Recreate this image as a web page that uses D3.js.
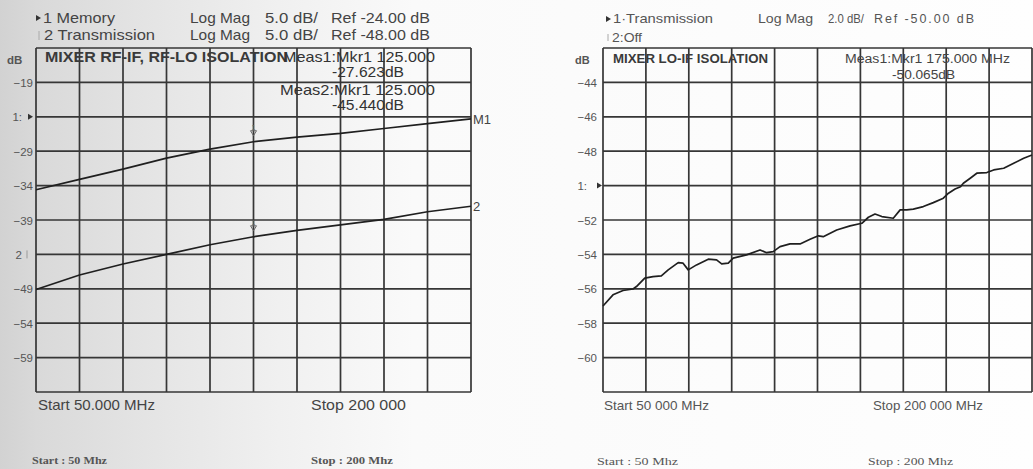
<!DOCTYPE html>
<html>
<head>
<meta charset="utf-8">
<script src="https://cdn.jsdelivr.net/npm/d3@7/dist/d3.min.js"></script>
<style>
  html, body { margin: 0; padding: 0; background: #fff; }
  svg { display: block; font-family: "Liberation Sans", Arial, sans-serif; }
</style>
</head>
<body>
<svg id="chart" width="1033" height="469"></svg>
<script>
// ---- Panel 1: mixer RF-IF / RF-LO isolation (two traces, 5 dB/div) ----
const rfFreqMHz = [50, 65, 80, 95, 110, 125, 140, 155, 170, 185, 200];
const memoryDb = [-34.6, -33.1, -31.6, -30.0, -28.7, -27.623, -26.95, -26.4, -25.7, -25.0, -24.3];
const transmissionDb = [-53.1, -51.0, -49.4, -48.0, -46.6, -45.44, -44.5, -43.7, -42.9, -41.8, -41.0];
const rfTicks = [-19, -24, -29, -34, -39, -44, -49, -54, -59];
const rfMarkerMHz = 125;
const rfMarkerDb = [-27.623, -45.44];

// ---- Panel 2: mixer LO-IF isolation (one trace, 2 dB/div) ----
const loFreqMHz = [50, 53.5, 57.0, 60.5, 61.7, 64.6, 67.5, 70.4, 72.8, 76.3, 78.0, 79.8, 82.7, 86.8, 89.7,
  91.5, 93.8, 95.5, 100.2, 104.9, 107.2, 109.5, 111.9, 115.4, 118.9, 122.4, 125.3, 127.0, 131.7, 136.4,
  140.5, 142.8, 145.1, 147.5, 151.5, 153.9, 156.2, 158.5, 162.0, 165.5, 169.0, 170.8, 173.1, 175.0,
  176.0, 178.4, 180.7, 184.2, 186.6, 190.1, 193.6, 197.1, 200];
const loIsolationDb = [-57.0, -56.35, -56.10, -56.01, -55.87, -55.38, -55.29, -55.25, -54.90, -54.48, -54.51,
  -54.90, -54.61, -54.28, -54.32, -54.55, -54.51, -54.22, -54.03, -53.74, -53.90, -53.84, -53.55, -53.39,
  -53.39, -53.12, -52.92, -52.97, -52.58, -52.34, -52.19, -51.84, -51.65, -51.80, -51.90, -51.41, -51.41,
  -51.37, -51.22, -50.99, -50.73, -50.44, -50.20, -50.065, -49.86, -49.57, -49.28, -49.24, -49.09, -48.99,
  -48.70, -48.41, -48.22];
const loTicks = [-44, -46, -48, -50, -52, -54, -56, -58, -60];
const loMarkerMHz = 175;
const loMarkerDb = -50.065;

const svg = d3.select("#chart");

// Paper-like background, greyer toward the left edge
const defs = svg.append("defs");
const bg = defs.append("linearGradient").attr("id", "paper").attr("x1", 0).attr("x2", 1).attr("y1", 0).attr("y2", 0);
[[0, "#d2d2d2"], [0.035, "#d9d9d9"], [0.14, "#e4e4e4"], [0.27, "#f0f0f0"], [0.4, "#fafafa"], [1, "#fefefe"]]
  .forEach(([o, c]) => bg.append("stop").attr("offset", o).attr("stop-color", c));
svg.append("rect").attr("width", 1033).attr("height", 469).attr("fill", "url(#paper)");

const gridColor = "#363636";
const traceColor = "#1f1f1f";

// Text helper; an optional width stretches the run to that length
function label(g, t, x, y, o = {}) {
  const el = g.append("text").attr("x", x).attr("y", y)
    .attr("font-size", o.size || 14).attr("fill", o.fill || "#444")
    .attr("font-weight", o.weight || "normal").text(t);
  if (o.family) el.attr("font-family", o.family);
  if (o.width) el.attr("textLength", o.width).attr("lengthAdjust", o.adjust || "spacingAndGlyphs");
  return el;
}

function drawGrid(g, x, y, yTicks, fmt, shift, labelX) {
  const [x0, x1] = x.range();
  const [y1, y0] = y.range();
  const xd = x.domain(), yd = y.domain();
  const xDiv = d3.range(0, 11).map(i => xd[0] + i * (xd[1] - xd[0]) / 10);
  const yDiv = d3.range(0, 11).map(i => yd[0] + i * (yd[1] - yd[0]) / 10);
  g.selectAll(".vg").data(xDiv).join("line")
    .attr("x1", d => x(d)).attr("x2", d => x(d)).attr("y1", y0).attr("y2", y1)
    .attr("stroke", gridColor).attr("stroke-width", 1.7);
  g.selectAll(".hg").data(yDiv).join("line")
    .attr("x1", x0).attr("x2", x1).attr("y1", d => y(d)).attr("y2", d => y(d))
    .attr("stroke", gridColor).attr("stroke-width", 1.7);

  const axis = d3.axisLeft(y).tickValues(yTicks).tickSize(0).tickPadding(0).tickFormat(fmt);
  const ag = g.append("g").attr("transform", `translate(${labelX},0)`).call(axis);
  ag.select(".domain").remove();
  ag.selectAll("text").attr("fill", "#555").attr("font-size", 11.5).attr("dy", "0.35em")
    .attr("dx", d => shift(d));
}

function refArrow(g, x, y) {
  g.append("path").attr("d", `M${x - 3},${y - 3} L${x + 2},${y} L${x - 3},${y + 3} Z`).attr("fill", "#333");
}

// ================= Left panel =================
{
  const g = svg.append("g");
  const x = d3.scaleLinear().domain([50, 200]).range([36, 471]);
  const y1 = d3.scaleLinear().domain([-64, -14]).range([392, 48]);   // Ref -24 dB, 5 dB/div
  const y2 = d3.scaleLinear().domain([-68, -18]).range([392, 48]);   // Ref -48 dB, 5 dB/div

  drawGrid(g, x, y1, rfTicks,
    d => (d === -24 ? "1:" : d === -44 ? "2" : d3.format("d")(d)),
    d => (d === -24 || d === -44 ? -11 : 0), 33);
  refArrow(g, 31, y1(-24));
  g.append("line").attr("x1", 27).attr("x2", 27).attr("y1", y1(-44) - 4).attr("y2", y1(-44) + 4)
    .attr("stroke", "#999").attr("stroke-width", 1);
  label(g, "dB", 7, 64, { size: 11.5, weight: "bold", fill: "#555" });

  const line1 = d3.line().x((d, i) => x(rfFreqMHz[i])).y(d => y1(d));
  const line2 = d3.line().x((d, i) => x(rfFreqMHz[i])).y(d => y2(d));
  g.append("path").attr("d", line1(memoryDb)).attr("fill", "none").attr("stroke", traceColor).attr("stroke-width", 1.7);
  g.append("path").attr("d", line2(transmissionDb)).attr("fill", "none").attr("stroke", traceColor).attr("stroke-width", 1.7);

  // marker symbols at 125 MHz
  [[y1, rfMarkerDb[0]], [y2, rfMarkerDb[1]]].forEach(([ys, v]) => {
    const mx = x(rfMarkerMHz), my = ys(v) - 8;
    g.append("path").attr("d", `M${mx - 3},${my - 3} L${mx + 3},${my - 3} L${mx},${my + 2} Z`)
      .attr("fill", "none").attr("stroke", "#666").attr("stroke-width", 1);
    label(g, "1", mx, my - 4, { size: 7, fill: "#666" }).attr("text-anchor", "middle");
  });

  label(g, "M1", 473, y1(memoryDb[memoryDb.length - 1]) + 5, { size: 13 });
  label(g, "2", 473, y2(transmissionDb[transmissionDb.length - 1]) + 5, { size: 13 });

  // header
  refArrow(g, 39, 18);
  label(g, "1 Memory", 43, 23, { size: 15, width: 72 });
  label(g, "Log Mag", 190, 23, { size: 15, width: 60 });
  label(g, "5.0 dB/", 265, 23, { size: 15, width: 53 });
  label(g, "Ref -24.00 dB", 331, 23, { size: 15, width: 99 });
  g.append("line").attr("x1", 39).attr("x2", 39).attr("y1", 31).attr("y2", 40).attr("stroke", "#aaa");
  label(g, "2 Transmission", 44, 40, { size: 15, width: 111 });
  label(g, "Log Mag", 190, 40, { size: 15, width: 60 });
  label(g, "5.0 dB/", 265, 40, { size: 15, width: 53 });
  label(g, "Ref -48.00 dB", 331, 40, { size: 15, width: 99 });

  label(g, "MIXER RF-IF, RF-LO ISOLATION", 45, 62, { size: 14, weight: "bold", fill: "#3a3a3a", width: 243 });
  label(g, `Meas1:Mkr1  ${rfMarkerMHz.toFixed(3)}`, 283, 62, { size: 14.5, fill: "#333", width: 152 });
  label(g, `${rfMarkerDb[0].toFixed(3)}dB`, 332, 77, { size: 14.5, fill: "#333", width: 72 });
  label(g, `Meas2:Mkr1  ${rfMarkerMHz.toFixed(3)}`, 280, 95, { size: 14.5, fill: "#333", width: 155 });
  label(g, `${rfMarkerDb[1].toFixed(3)}dB`, 332, 110, { size: 14.5, fill: "#333", width: 72 });

  label(g, "Start 50.000 MHz", 38, 410, { size: 14.5, width: 117 });
  label(g, "Stop 200 000", 311, 410, { size: 14.5, width: 95 });

  const serif = "'Liberation Serif', 'DejaVu Serif', serif";
  label(g, "Start : 50 Mhz", 32, 464, { size: 11, weight: "bold", fill: "#555", family: serif, width: 75 });
  label(g, "Stop : 200 Mhz", 311, 464, { size: 11, weight: "bold", fill: "#555", family: serif, width: 82 });
}

// ================= Right panel =================
{
  const g = svg.append("g");
  const x = d3.scaleLinear().domain([50, 200]).range([603, 1032]);
  const y = d3.scaleLinear().domain([-62, -42]).range([392, 48]);   // Ref -50 dB, 2 dB/div

  drawGrid(g, x, y, loTicks, d => (d === -50 ? "1:" : d3.format("d")(d)), d => (d === -50 ? -10 : 0), 597);
  refArrow(g, 600, y(-50));
  label(g, "dB", 575, 64, { size: 11, weight: "bold", fill: "#555" });

  const line = d3.line().x((d, i) => x(loFreqMHz[i])).y(d => y(d));
  g.append("path").attr("d", line(loIsolationDb)).attr("fill", "none")
    .attr("stroke", traceColor).attr("stroke-width", 1.7).attr("stroke-linejoin", "round");

  refArrow(g, 609, 19);
  label(g, "1·Transmission", 613, 23, { size: 13, fill: "#555", width: 100 });
  label(g, "Log Mag", 758, 23, { size: 12.5, fill: "#555", width: 55 });
  label(g, "2.0 dB/", 828, 23, { size: 12, fill: "#555", width: 36 });
  label(g, "Ref -50.00 dB", 874, 23, { size: 12.5, fill: "#555", width: 100, adjust: "spacing" });
  g.append("line").attr("x1", 608).attr("x2", 608).attr("y1", 34).attr("y2", 41).attr("stroke", "#aaa");
  label(g, "2:Off", 612, 42, { size: 13, fill: "#555", width: 30 });

  label(g, "MIXER LO-IF ISOLATION", 613, 63, { size: 12.5, weight: "bold", fill: "#3a3a3a", width: 155 });
  label(g, `Meas1:Mkr1  ${loMarkerMHz.toFixed(3)} MHz`, 845, 63, { size: 12.5, fill: "#444", width: 165 });
  label(g, `${loMarkerDb.toFixed(3)}dB`, 892, 79, { size: 12.5, fill: "#444", width: 63 });

  label(g, "Start 50 000 MHz", 604, 410, { size: 13, fill: "#555", width: 105 });
  label(g, "Stop 200 000 MHz", 873, 410, { size: 13, fill: "#555", width: 110 });

  const serif = "'Liberation Serif', 'DejaVu Serif', serif";
  label(g, "Start : 50 Mhz", 597, 465, { size: 11, fill: "#555", family: serif, width: 81 });
  label(g, "Stop : 200 Mhz", 868, 465, { size: 11, fill: "#555", family: serif, width: 85 });
}
</script>
</body>
</html>
